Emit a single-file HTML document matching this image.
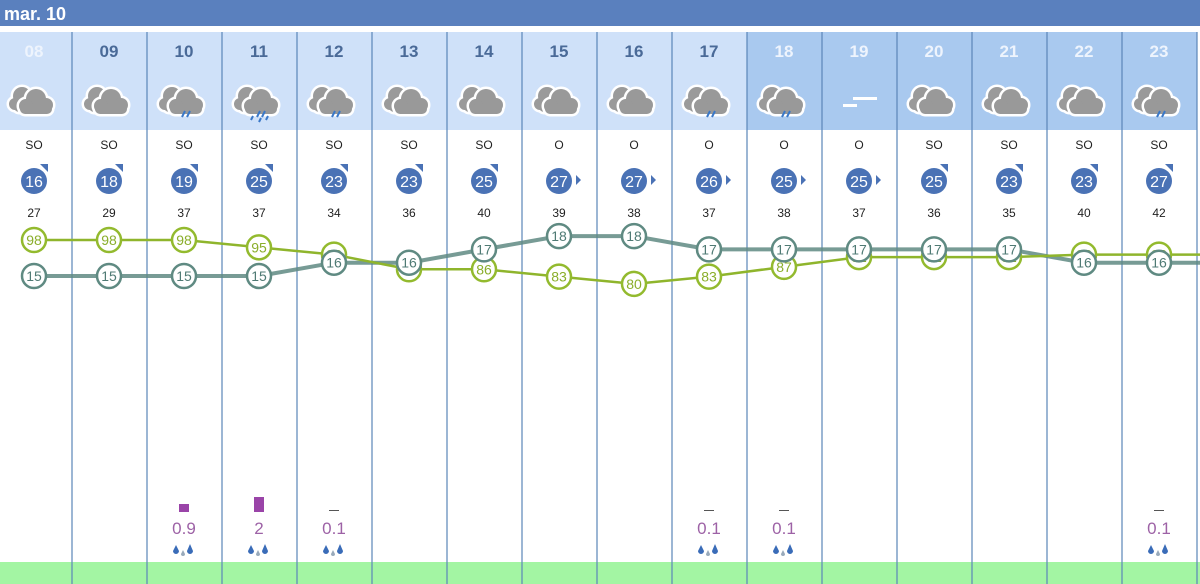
<!DOCTYPE html>
<html><head><meta charset="utf-8"><style>
html,body{margin:0;padding:0;background:#fff;}
svg{display:block;font-family:"Liberation Sans",sans-serif;}
</style></head><body>
<svg id="s" width="1200" height="584" viewBox="0 0 1200 584" xmlns="http://www.w3.org/2000/svg">
<rect x="0" y="0" width="1200" height="26" fill="#5a80be"/>
<text x="4" y="20" font-size="18" font-weight="bold" fill="#fff">mar. 10</text>
<rect x="0" y="562" width="1200" height="22" fill="#a3f5a3"/>
<g id="g"></g>
</svg>
<script>
var g=document.getElementById('g'),h='';
var hrs=['08','09','10','11','12','13','14','15','16','17','18','19','20','21','22','23'];
var icon=['c','c','r','R','r','c','c','c','c','r','r','f','c','c','c','r'];
var dir=['SO','SO','SO','SO','SO','SO','SO','O','O','O','O','O','SO','SO','SO','SO'];
var ws=[16,18,19,25,23,23,25,27,27,26,25,25,25,23,23,27];
var gu=[27,29,37,37,34,36,40,39,38,37,38,37,36,35,40,42];
var hu=[98,98,98,95,92,86,86,83,80,83,87,91,91,91,92,92];
var te=[15,15,15,15,16,16,17,18,18,17,17,17,17,17,16,16];
var pr={2:['0.9',8],3:['2',15],4:['0.1',1],9:['0.1',1],10:['0.1',1],15:['0.1',1]};
function cx(i){return 34+75*i;}
function cloud(parts,col){
 var s='',f='';
 parts.forEach(function(p){
  if(p.length==3){s+='<circle cx="'+p[0]+'" cy="'+p[1]+'" r="'+p[2]+'" fill="#fff" stroke="#fff" stroke-width="5"/>';f+='<circle cx="'+p[0]+'" cy="'+p[1]+'" r="'+p[2]+'" fill="'+col+'"/>';}
  else {s+='<rect x="'+p[0]+'" y="'+p[1]+'" width="'+p[2]+'" height="'+p[3]+'" rx="'+(p[3]/2)+'" fill="#fff" stroke="#fff" stroke-width="5"/>';f+='<rect x="'+p[0]+'" y="'+p[1]+'" width="'+p[2]+'" height="'+p[3]+'" rx="'+(p[3]/2)+'" fill="'+col+'"/>';}
 });
 return s+f;
}
for(var i=0;i<16;i++){
 var x0=-3+75*i, c=cx(i);
 h+='<rect x="'+x0+'" y="32" width="75" height="98" fill="'+(i>=10?'#a9c9ef':'#cfe1f9')+'"/>';
 h+='<text x="'+c+'" y="57" font-size="17" font-weight="bold" text-anchor="middle" fill="'+((i==0||i>=10)?'#eef4fd':'#4a6a98')+'">'+hrs[i]+'</text>';
 if(icon[i]=='f'){
  h+='<rect x="'+(c-16)+'" y="104" width="14" height="3" fill="#fff"/><rect x="'+(c-6)+'" y="97" width="24" height="3" fill="#fff"/>';
 } else {
  var y=101;
  h+=cloud([[c-12,y-5,9],[c-19,y+3,6],[c-20,y+1,16,10]],'#9a9a9a');
  h+=cloud([[c+2,y-2,10],[c-8,y+5,7],[c+12,y+4,7],[c-14,y+3,32,10]],'#999');
  if(icon[i]!='c'){h+='<path d="M'+(c+1)+' '+(y+10)+'l-3 6M'+(c+6)+' '+(y+10)+'l-3 6" stroke="#3a78c8" stroke-width="2"/>';}
  if(icon[i]=='R'){h+='<path d="M'+(c-6)+' '+(y+15)+'l-2 4M'+(c+2)+' '+(y+17)+'l-2 4M'+(c+9)+' '+(y+15)+'l-2 4" stroke="#3a78c8" stroke-width="2"/>';}
 }
 h+='<text x="'+c+'" y="149" font-size="12" text-anchor="middle" fill="#222">'+dir[i]+'</text>';
 h+='<circle cx="'+c+'" cy="181" r="13" fill="#4a72b5"/><text x="'+c+'" y="187" font-size="16" text-anchor="middle" fill="#fff">'+ws[i]+'</text>';
 if(dir[i]=='SO') h+='<path d="M'+(c+6)+' 164h8v8z" fill="#4a72b5"/>';
 else h+='<path d="M'+(c+17)+' 175l5 5-5 5z" fill="#4a72b5"/>';
 h+='<text x="'+c+'" y="217" font-size="12" text-anchor="middle" fill="#222">'+gu[i]+'</text>';
 if(pr[i]){var p=pr[i];
  if(p[1]>1) h+='<rect x="'+(c-5)+'" y="'+(512-p[1])+'" width="10" height="'+p[1]+'" fill="#9a44a8"/>';
  else h+='<rect x="'+(c-5)+'" y="510" width="10" height="1" fill="#555"/>';
  h+='<text x="'+c+'" y="534" font-size="17" text-anchor="middle" fill="#9d62a6">'+p[0]+'</text>';
  h+='<path d="M'+(c-8)+' 545l-3 6a3 3 0 0 0 6 0zM'+(c+6)+' 544l-3 7a3 3 0 0 0 6 0z" fill="#3a6cb8"/><path d="M'+(c-1)+' 550l-2 4a2 2 0 0 0 4 0z" fill="#9ab"/>';
 }
}
for(var i=1;i<=16;i++){var lx=72+75*(i-1);h+='<line x1="'+lx+'" y1="32" x2="'+lx+'" y2="584" stroke="#5b86b8" stroke-width="1.2"/>';}
function yh(v){return 240+(98-v)*2.44;} function yt(v){return 276-(v-15)*13.3;}
var ph='',pt='';
for(var i=0;i<16;i++){ph+=(i?'L':'M')+cx(i)+' '+yh(hu[i]);pt+=(i?'L':'M')+cx(i)+' '+yt(te[i]);}
ph+='L1200 '+yh(92);pt+='L1200 '+yt(16);
h+='<path d="'+pt+'" stroke="#5f8a82" stroke-width="4" fill="none" opacity=".85"/>';
h+='<path d="'+ph+'" stroke="#8fb52c" stroke-width="2.5" fill="none"/>';
for(var i=0;i<16;i++){
 h+='<circle cx="'+cx(i)+'" cy="'+yh(hu[i])+'" r="12" fill="#fff" stroke="#93ba2e" stroke-width="2.5"/><text x="'+cx(i)+'" y="'+(yh(hu[i])+5)+'" font-size="14" text-anchor="middle" fill="#8aae2a">'+hu[i]+'</text>';
 h+='<circle cx="'+cx(i)+'" cy="'+yt(te[i])+'" r="12" fill="#fff" stroke="#5f8a82" stroke-width="2.5"/><text x="'+cx(i)+'" y="'+(yt(te[i])+5)+'" font-size="14" text-anchor="middle" fill="#4f7a74">'+te[i]+'</text>';
}
g.innerHTML=h;
</script>
</body></html>
